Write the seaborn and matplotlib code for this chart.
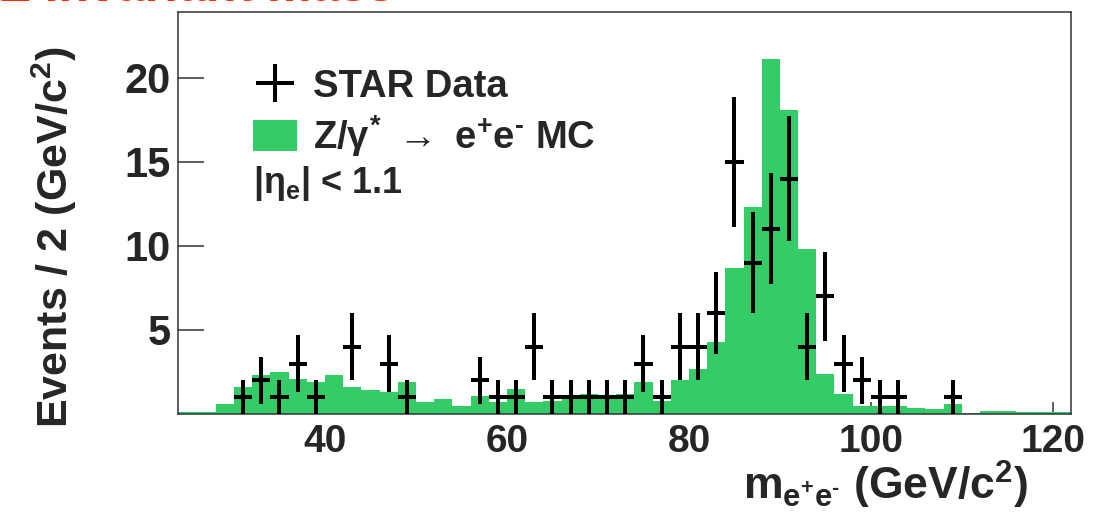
import numpy as np
import pandas as pd
import matplotlib
matplotlib.use("Agg")
import matplotlib.pyplot as plt
import seaborn as sns
from matplotlib.patches import Patch

# Z/gamma* -> e+e- MC, events per 2 GeV bin, bins start at 24 GeV
mc_edges = list(range(24, 124, 2))
mc_counts = [0.1, 0.1, 0.6, 1.6, 2.3, 2.5, 2.1, 1.9, 2.3, 1.6,
             1.4, 1.3, 1.9, 0.7, 0.9, 0.45, 1.1, 0.7, 1.5, 0.7,
             0.8, 0.9, 1.2, 0.9, 1.2, 1.9, 0.8, 2.0, 2.7, 4.3,
             8.7, 12.3, 21.1, 18.1, 9.8, 2.4, 1.2, 0.45, 0.45, 0.45,
             0.35, 0.3, 0.6, 0.05, 0.2, 0.2, 0.1, 0.1, 0.1]

# STAR data points (bin centre, counts, stat. error)
data_mass = [31, 33, 35, 37, 39, 43, 47, 49, 57, 59, 61, 63, 65, 67, 69, 71, 73,
             75, 77, 79, 81, 83, 85, 87, 89, 91, 93, 95, 97, 99, 101, 103, 109]
data_counts = [1, 2, 1, 3, 1, 4, 3, 1, 2, 1, 1, 4, 1, 1, 1, 1, 1,
               3, 1, 4, 4, 6, 15, 9, 11, 14, 4, 7, 3, 2, 1, 1, 1]
data_err = [1.0, 1.4, 1.0, 1.7, 1.0, 2.0, 1.7, 1.0, 1.4, 1.0, 1.0, 2.0, 1.0, 1.0, 1.0, 1.0, 1.0,
            1.7, 1.0, 2.0, 2.0, 2.45, 3.87, 3.0, 3.3, 3.74, 2.0, 2.65, 1.7, 1.4, 1.0, 1.0, 1.0]
bin_halfwidth = 1.0

mc_green = "#33cc66"

sns.set_theme(style="white")
plt.rcParams['font.family'] = ['Liberation Sans', 'DejaVu Sans']
plt.rcParams['font.weight'] = 'bold'
plt.rcParams['mathtext.fontset'] = 'custom'
plt.rcParams['mathtext.rm'] = 'Liberation Sans:bold'
plt.rcParams['mathtext.it'] = 'Liberation Sans'
plt.rcParams['mathtext.bf'] = 'Liberation Sans:bold'

fig = plt.figure(figsize=(11.1, 5.17), dpi=100)
ax = fig.add_axes([0.1604, 0.1992, 0.8045, 0.7776])

mc = pd.DataFrame({"mass": [e + 1 for e in mc_edges[:-1]], "events": mc_counts})
sns.histplot(data=mc, x="mass", weights="events", bins=mc_edges, element="step",
             fill=True, color=mc_green, alpha=1, linewidth=0, ax=ax)

data_bars = ax.errorbar(data_mass, data_counts, xerr=bin_halfwidth, yerr=data_err,
                        fmt="none", ecolor="black", elinewidth=2.9, capsize=0, zorder=3)

ax.set_xlim(23.85, 122)
ax.set_ylim(0, 23.9)
ax.set_xticks([40, 60, 80, 100, 120])
ax.set_yticks([5, 10, 15, 20])
ax.set_xlabel("")
ax.set_ylabel("")
ax.tick_params(axis="x", direction="in", length=8.6, width=1.1, color="#333333",
               labelsize=28, pad=7, bottom=True, top=False)
ax.tick_params(axis="y", direction="in", length=18.7, width=1.1, color="#333333",
               labelsize=30, pad=5, left=True, right=False)
for lab in ax.get_xticklabels() + ax.get_yticklabels():
    lab.set_fontweight("bold")
for side in ax.spines.values():
    side.set_visible(True)
    side.set_linewidth(1.1)
    side.set_color("#333333")

handles = [data_bars, Patch(facecolor=mc_green, edgecolor="none")]
labels = ["STAR Data",
          r"Z/$\gamma^{*}$ $\rightarrow$ e$^{+}$e$^{\text{-}}$ MC"]
ax.legend(handles, labels, loc="upper left", bbox_to_anchor=(0.084, 0.86),
          frameon=False, fontsize=27.5, handlelength=1.15, handleheight=0.9,
          handletextpad=0.42, labelspacing=0.2, borderpad=0, borderaxespad=0)
ax.text(0.084, 0.55, r"|$\eta_{\mathrm{e}}$| < 1.1", transform=ax.transAxes,
        fontsize=26, fontweight="bold", va="baseline", ha="left")

fig.text(54 / 1110, 1 - 237 / 517, r"Events / 2 (GeV/c$^{2}$)", rotation=90,
         ha="center", va="center", fontsize=31, fontweight="bold")
fig.text(1028 / 1110, 1 - 500 / 517,
         r"m$_{\mathrm{e^{+}e^{\text{-}}}}$ (GeV/c$^{2}$)",
         ha="right", va="baseline", fontsize=32, fontweight="bold")

# slide title above the plot, mostly cut off at the top edge
fig.text(0.0, 1 - 1 / 517, "Z invariant mass", color="#ff2a00",
         fontsize=36, fontweight="bold", ha="left", va="baseline")

fig.savefig("out.png", dpi=100)
